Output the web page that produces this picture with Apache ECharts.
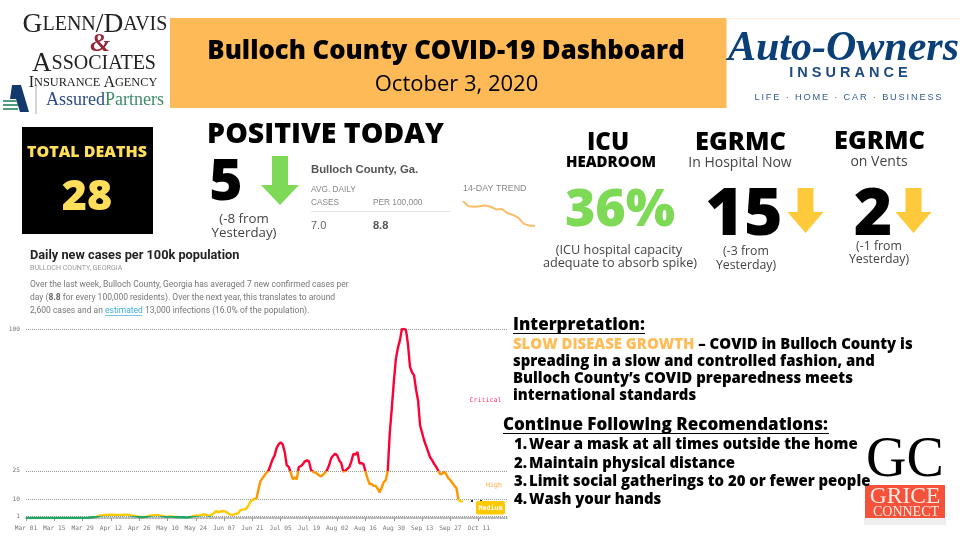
<!DOCTYPE html>
<html><head><meta charset="utf-8">
<style>html,body{margin:0;padding:0;background:#fff}#c{width:960px;height:540px}</style>
<script src="https://cdn.jsdelivr.net/npm/echarts@6/dist/echarts.min.js"></script>
</head><body><div id="c"></div>
<script>
// ---------- data ----------
const tickStart = [2020, 2, 1];
const dayCount = 239;
const casesPer100k = [
0,0,0,0,0,0,0,0,0,0,0,0,0,0,0,0,0,0,0,0,0,0,0,0,0,0,0,0,0,0,0,0,
.3,.4,.5,.7,1.1,
1.3,1.5,1.6,1.6,1.7,1.6,1.8,1.6,1.6,1.5,1.6,1.6,1.8,1.8,1.6,1.4,1.2,
1,.8,.6,.5,.5,.6,.8,
1.1,1.3,1.5,1.5,1.5,1.4,1.2,.9,.7,
.6,.8,.8,.6,.5,.5,.4,.4,.4,.3,.3,.5,.7,
1.1,1.2,1.3,1.4,1.7,2,1.7,1.4,1.2,1.8,
2.6,3.7,3,3.3,3.6,3.7,3.2,2.6,1.8,
1.7,1.9,2.2,2.5,4.2,4.4,4.6,5,6.5,
8.6,9.5,10,10.2,15,
19.5,21,22.5,24,25,
28,31,33,37,39,40,39,35,28,
27,24,20.5,21.5,20.5,27,27.5,28.5,30,30.5,30,25.5,24.5,24,23.5,22.5,22,23,24,25.4,
28,31.6,33,34,33,30.5,29,24.5,25,26,27,30,34,33.5,35,29,29,28.5,24.5,21,18,18,17,17,15.5,13.6,16,19,20,25,
45,58,72,84,90,94,100,100,99.5,92,80,77,75.6,68,62,49,45,41,38,35,32,30.5,28.5,27,25,23,23.5,24.5,23,21,20,18.5,17,15.7,9.5,9,8.5];
const yTicks = [1, 10, 25, 100];
const trend14Day = [14.2,13.1,13,13.1,13.3,13,12.4,12.5,11.6,11.2,10.6,9.2,8.8,8.8];
const kpis = {deaths: '28', positive: '5', icu: '36%', hospital: '15', vents: '2'};
const countyStats = {avg: '7.0', per100k: '8.8'};
const recommendations = ['Wear a mask at all times outside the home','Maintain physical distance','Limit social gatherings to 20 or fewer people','Wash your hands'];

// ---------- helpers ----------
const MONTHS = ['Jan','Feb','Mar','Apr','May','Jun','Jul','Aug','Sep','Oct','Nov','Dec'];
const dates = [];
for (let i = 0; i < dayCount; i++) {
  const d = new Date(tickStart[0], tickStart[1], tickStart[2] + i);
  dates.push(MONTHS[d.getMonth()] + ' ' + String(d.getDate()).padStart(2, '0'));
}
const values = dates.map((_, i) => i < casesPer100k.length ? casesPer100k[i] : null);
const OS = '"Open Sans"', SERIF = '"Liberation Serif"', SANS = '"Liberation Sans"', MONO = '"DejaVu Sans Mono"';
function T(x, y, text, size, o) {
  o = o || {};
  const font = o.font || OS;
  return {type: 'text', x, y: y + (font === OS ? size * 0.07 : 0), z: o.z || 10, silent: true, style: {
    text, fontSize: size, fontFamily: font, fontWeight: o.w || 'normal', fontStyle: o.st || 'normal',
    fill: o.c || '#000', align: o.a || 'center', verticalAlign: 'middle', rich: o.rich }};
}
function R(x, y, w, h, c, z, r) { return {type: 'rect', z: z || 5, silent: true, shape: {x, y, width: w, height: h, r: r || 0}, style: {fill: c}}; }
function L(x1, y1, x2, y2, c, w) { return {type: 'line', z: 10, silent: true, shape: {x1, y1, x2, y2}, style: {stroke: c, lineWidth: w}}; }
function arrow(cx, top, neck, tip, hw, sw, c) {
  return {type: 'polygon', z: 10, silent: true, style: {fill: c}, shape: {points: [
    [cx - sw, top], [cx + sw, top], [cx + sw, neck], [cx + hw, neck], [cx, tip], [cx - hw, neck], [cx - sw, neck]]}};
}
const spaced = s => s.split('').join('\u2009');
const smallCaps = (big, small) => ({b: {fontSize: big, fontFamily: SERIF, fill: '#222'}, s: {fontSize: small, fontFamily: SERIF, fill: '#222'}});
const ORANGE = '#FFBD59', GREEN = '#7ED957', YEL = '#FFC93C', GRAY = '#444', BODY = 14.9, ART = 8.5;

const graphic = [
  // header
  R(170, 18, 556.5, 90, '#FDBA57'),
  R(726, 18, 234, 1.2, '#FFF3E0'),
  T(446, 50, 'Bulloch County COVID-19 Dashboard', 25.7, {w: 800}),
  T(456.5, 83, 'October 3, 2020', 22),
  // Glenn/Davis logo
  T(95, 24, '{b|G}{s|LENN}{b|/D}{s|AVIS}', 12, {rich: smallCaps(27.5, 20)}),
  T(100, 44, '&', 26, {font: SERIF, c: '#96283A', st: 'italic', w: 'bold'}),
  T(94, 63, '{b|A}{s|SSOCIATES}', 12, {rich: smallCaps(27, 20)}),
  T(93, 82, '{b|I}{s|NSURANCE }{b|A}{s|GENCY}', 12, {rich: smallCaps(16, 12.3)}),
  T(46, 99, '{a|Assured}{p|Partners}', 12, {a: 'left', rich: {a: {fontSize: 18, fontFamily: SERIF, fill: '#2C4A86'}, p: {fontSize: 18, fontFamily: SERIF, fill: '#3E8B6A'}}}),
  {type: 'polygon', z: 10, silent: true, style: {fill: '#13386B'}, shape: {points: [[12, 85],[21, 85],[29, 112],[20, 112],[16, 99],[10, 99]]}},
  R(3, 100, 14, 2, '#4E9C7E', 11), R(3, 104, 15, 2, '#4E9C7E', 11), R(3, 108, 15, 2, '#4E9C7E', 11),
  L(36, 84, 36, 114, '#888', .7),
  // Auto-Owners logo
  T(843.5, 49, 'Auto-Owners', 42, {font: SERIF, w: 'bold', st: 'italic', c: '#0B3F78'}),
  T(848.5, 73, 'I N S U R A N C E', 14.5, {font: SANS, w: 'bold', c: '#1D4A80'}),
  T(848, 97, spaced('LIFE · HOME · CAR · BUSINESS'), 9.2, {font: SANS, c: '#2F5C92'}),
  // deaths
  R(22, 127, 131, 107, '#000'),
  T(87, 151, 'TOTAL DEATHS', 16, {w: 800, c: '#FFDE59'}),
  T(87, 195, kpis.deaths, 43, {w: 800, c: '#FFDE59'}),
  // positive
  T(325.5, 133, 'POSITIVE TODAY', 28.5, {w: 800}),
  T(226, 180, kpis.positive, 57, {w: 800}),
  arrow(280, 156, 185, 205, 19, 8, GREEN),
  T(244, 218, '(-8 from', 13.3, {c: GRAY}),
  T(244, 232, 'Yesterday)', 13.3, {c: GRAY}),
  T(311, 170, 'Bulloch County, Ga.', 11.3, {a: 'left', font: SANS, w: 'bold', c: '#555'}),
  T(311, 190, 'AVG. DAILY', 8.3, {a: 'left', font: SANS, c: '#888'}),
  T(311, 203, 'CASES', 8.3, {a: 'left', font: SANS, c: '#888'}),
  T(373, 203, 'PER 100,000', 8.3, {a: 'left', font: SANS, c: '#888'}),
  L(311, 211.5, 450, 211.5, '#E6E6E6', 1),
  T(311, 226, countyStats.avg, 11, {a: 'left', font: SANS, c: '#666'}),
  T(373, 226, countyStats.per100k, 11, {a: 'left', font: SANS, w: 'bold', c: '#555'}),
  T(463, 189, '14-DAY TREND', 8.9, {a: 'left', font: SANS, c: '#888'}),
  // ICU
  T(608, 141, 'ICU', 24, {w: 800}),
  T(611, 162, 'HEADROOM', 15, {w: 800}),
  T(620, 208, kpis.icu, 52, {w: 800, c: GREEN}),
  T(619, 249, '(ICU hospital capacity', 12.7, {c: GRAY}),
  T(620, 262, 'adequate to absorb spike)', 12.7, {c: GRAY}),
  // hospital
  T(740.5, 141, 'EGRMC', 25.4, {w: 800}),
  T(740, 162, 'In Hospital Now', 14, {c: GRAY}),
  T(744, 212, kpis.hospital, 66, {w: 800}),
  arrow(805.5, 188, 212, 233, 18, 8, YEL),
  T(746, 251, '(-3 from', 12.3, {c: GRAY}),
  T(746, 265, 'Yesterday)', 12.3, {c: GRAY}),
  // vents
  T(879.5, 140, 'EGRMC', 25.4, {w: 800}),
  T(879, 161, 'on Vents', 14, {c: GRAY}),
  T(873, 212, kpis.vents, 66, {w: 800}),
  arrow(913.5, 188, 212, 233, 18, 8, YEL),
  T(879, 246, '(-1 from', 12.3, {c: GRAY}),
  T(879, 259, 'Yesterday)', 12.3, {c: GRAY}),
  // article text
  T(30, 256, 'Daily new cases per 100k population', 12.75, {a: 'left', font: 'Roboto', w: 'bold', c: '#222'}),
  T(30, 268, 'BULLOCH COUNTY, GEORGIA', 7.1, {a: 'left', font: 'Roboto', c: '#999'}),
  T(30, 285, 'Over the last week, Bulloch County, Georgia has averaged 7 new confirmed cases per', ART, {a: 'left', font: 'Roboto', c: '#777'}),
  T(30, 298, '{n|day (}{b|8.8}{n| for every 100,000 residents). Over the next year, this translates to around}', ART, {a: 'left', font: 'Roboto', rich: {n: {fontSize: ART, fontFamily: 'Roboto', fill: '#777'}, b: {fontSize: ART, fontFamily: 'Roboto', fontWeight: 'bold', fill: '#666'}}}),
  T(30, 311, '{n|2,600 cases and an }{l|estimated}{n| 13,000 infections (16.0% of the population).}', ART, {a: 'left', font: 'Roboto', rich: {n: {fontSize: ART, fontFamily: 'Roboto', fill: '#777'}, l: {fontSize: ART, fontFamily: 'Roboto', fill: '#3BAFDA'}}}),
  L(105, 315.5, 142, 315.5, '#3BAFDA', .7),
  // chart zone labels
  T(485.5, 400, 'Critical', 6.6, {font: MONO, c: '#FF3B6B'}),
  T(494, 485, 'High', 6.6, {font: MONO, c: '#FFAA44'}),
  R(476, 501, 29, 13.5, '#FFC900', 12, 2),
  T(490.5, 508, 'Medium', 6.6, {font: MONO, c: '#fff', w: 'bold', z: 13}),
  R(471, 500, 2, 2, '#333', 11), R(480, 500, 2, 2, '#333', 11),
  // interpretation
  T(513, 324, 'Interpretation:', 17, {a: 'left', w: 800}),
  L(513, 333.5, 645, 333.5, '#000', 1.2),
  T(513, 344, '{o|SLOW DISEASE GROWTH}{k| – COVID in Bulloch County is}', BODY, {a: 'left', rich: {o: {fontSize: BODY, fontFamily: OS, fontWeight: 800, fill: ORANGE}, k: {fontSize: BODY, fontFamily: OS, fontWeight: 800, fill: '#000'}}}),
  T(513, 361, 'spreading in a slow and controlled fashion, and', BODY, {a: 'left', w: 800}),
  T(513, 378, 'Bulloch County’s COVID preparedness meets', BODY, {a: 'left', w: 800}),
  T(513, 395, 'international standards', BODY, {a: 'left', w: 800}),
  T(503, 424, 'Continue Following Recomendations:', 17, {a: 'left', w: 800}),
  L(503, 433.5, 829, 433.5, '#000', 1.2),
  // GC logo
  T(905, 461, 'GC', 56, {font: SERIF}),
  R(864, 518, 82, 7, '#EEEEEE', 6),
  R(865, 485, 80, 33, '#F4523B', 7),
  T(905, 497, 'GRICE', 23.5, {font: SERIF, c: '#FFE9E2'}),
  T(906, 512, 'CONNECT', 14, {font: SERIF, c: '#FFE9E2'})
];
const listY = [444, 463, 481, 499];
recommendations.forEach((r, i) => {
  graphic.push(T(514, listY[i], (i + 1) + '.', BODY, {a: 'left', w: 800}));
  graphic.push(T(529, listY[i], r, BODY, {a: 'left', w: 800, z: 15}));
});

const chart = echarts.init(document.getElementById('c'), null, {renderer: 'canvas'});
chart.setOption({
  animation: false,
  backgroundColor: '#fff',
  graphic,
  grid: [
    {left: 26, top: 329, width: 481, height: 189, containLabel: false},
    {left: 463, top: 200, width: 72, height: 27}
  ],
  xAxis: [
    {type: 'category', gridIndex: 0, data: dates, boundaryGap: false,
     axisLine: {lineStyle: {color: '#999', type: 'dotted', width: 1.5}},
     axisTick: {interval: 13, length: 3, lineStyle: {color: '#999'}},
     axisLabel: {interval: 13, fontFamily: MONO, fontSize: 6.2, color: '#777', margin: 7, showMaxLabel: false},
     splitLine: {show: false}},
    {type: 'category', gridIndex: 1, show: false, boundaryGap: false, data: trend14Day.map((_, i) => i)}
  ],
  yAxis: [
    {type: 'value', gridIndex: 0, min: 0, max: 100,
     axisLine: {show: false}, axisTick: {show: false, customValues: yTicks},
     axisLabel: {customValues: yTicks, fontFamily: MONO, fontSize: 6.2, color: '#777', margin: 6},
     splitLine: {show: true, lineStyle: {color: '#999', type: 'dotted', width: 1}}},
    {type: 'value', gridIndex: 1, show: false, min: 8.5, max: 14.5}
  ],
  visualMap: {show: false, seriesIndex: 0, type: 'piecewise', dimension: 1, pieces: [
    {lte: 1, color: '#22A765'},
    {gt: 1, lte: 10, color: '#FFC900'},
    {gt: 10, lte: 25, color: '#FF9600'},
    {gt: 25, color: '#FF0034'}
  ]},
  series: [
    {type: 'line', xAxisIndex: 0, yAxisIndex: 0, data: values, showSymbol: false, connectNulls: false,
     lineStyle: {width: 2.4}, silent: true},
    {type: 'line', xAxisIndex: 1, yAxisIndex: 1, data: trend14Day, showSymbol: false,
     lineStyle: {width: 2, color: '#FDBC68'}, itemStyle: {color: '#FDBC68'}, silent: true}
  ]
});
</script></body></html>
